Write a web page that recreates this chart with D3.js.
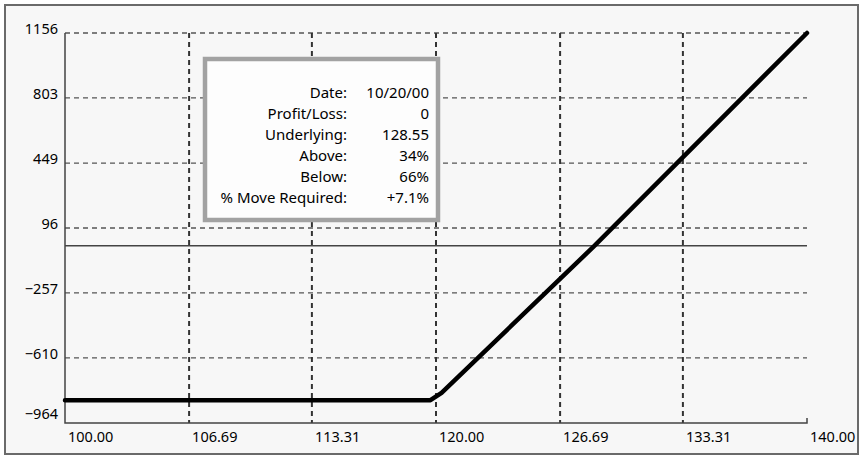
<!DOCTYPE html>
<html>
<head>
<meta charset="utf-8">
<script src="https://cdn.jsdelivr.net/npm/d3@7"></script>
<style>
  body { margin: 0; background: #fff; }
  text { font-family: "Noto Sans", "Open Sans", sans-serif; fill: #000; }
</style>
</head>
<body>
<svg id="chart" width="863" height="457"></svg>
<script>
// data
const xTicks = [100, 106.69, 113.31, 120, 126.69, 133.31, 140];
const yTicks = [-964, -610, -257, 96, 449, 803, 1156];
const prices = [100, 119.7, 120.3, 128.55, 140];
const profit = [-840, -840, -800, 0, 1156];
const infoLabels = ["Date:", "Profit/Loss:", "Underlying:", "Above:", "Below:", "% Move Required:"];
const infoValues = ["10/20/00", "0", "128.55", "34%", "66%", "+7.1%"];

const width = 863, height = 457;
const margin = { top: 33, right: 56, bottom: 34, left: 65 };

const svg = d3.select("#chart");

// frame
svg.append("rect")
  .attr("x", 5).attr("y", 5)
  .attr("width", width - 10).attr("height", height - 8)
  .attr("fill", "#f7f7f7")
  .attr("stroke", "#6a6a6a")
  .attr("stroke-width", 2);

const x = d3.scaleLinear()
  .domain([xTicks[0], xTicks[xTicks.length - 1]])
  .range([margin.left, width - margin.right]);

const y = d3.scaleLinear()
  .domain([yTicks[0], yTicks[yTicks.length - 1]])
  .range([height - margin.bottom, margin.top]);

const x0 = x.range()[0], x1 = x.range()[1];
const yBottom = y.range()[0], yTop = y.range()[1];

// horizontal dashed grid
svg.append("g")
  .selectAll("line")
  .data(yTicks.slice(1))
  .join("line")
  .attr("x1", x0).attr("x2", x1)
  .attr("y1", d => y(d)).attr("y2", d => y(d))
  .attr("stroke", "#555")
  .attr("stroke-width", 1.3)
  .attr("stroke-dasharray", "5,4");

// vertical dashed grid
svg.append("g")
  .selectAll("line")
  .data(xTicks.slice(1, -1))
  .join("line")
  .attr("x1", d => x(d)).attr("x2", d => x(d))
  .attr("y1", yTop).attr("y2", yBottom)
  .attr("stroke", "#333")
  .attr("stroke-width", 2)
  .attr("stroke-dasharray", "5,4");

// zero line
svg.append("line")
  .attr("x1", x0).attr("x2", x1)
  .attr("y1", y(0)).attr("y2", y(0))
  .attr("stroke", "#444")
  .attr("stroke-width", 1.5);

// axes
svg.append("path")
  .attr("d", `M${x0},${yTop}V${yBottom}H${x1}V${yBottom - 5}`)
  .attr("fill", "none")
  .attr("stroke", "#444")
  .attr("stroke-width", 1.5);

svg.append("g")
  .selectAll("text")
  .data(yTicks)
  .join("text")
  .attr("x", x0 - 7)
  .attr("y", d => Math.min(y(d) + 1, yBottom - 4))
  .attr("text-anchor", "end")
  .attr("font-size", 14.5)
  .text(d => d < 0 ? "\u2212" + Math.abs(d) : d);

svg.append("g")
  .selectAll("text")
  .data(xTicks)
  .join("text")
  .attr("x", d => x(d) + 3)
  .attr("y", yBottom + 19)
  .attr("font-size", 14.5)
  .text(d => d.toFixed(2));

// payoff line
const line = d3.line()
  .x((d, i) => x(prices[i]))
  .y(d => y(d));

svg.append("path")
  .datum(profit)
  .attr("d", line)
  .attr("fill", "none")
  .attr("stroke", "#000")
  .attr("stroke-width", 4.5)
  .attr("stroke-linejoin", "round")
  .attr("stroke-linecap", "round");

// info box
const box = svg.append("g").attr("transform", "translate(205,59)");
box.append("rect")
  .attr("width", 233).attr("height", 161)
  .attr("fill", "#fdfdfd")
  .attr("stroke", "#a2a2a2")
  .attr("stroke-width", 4.5);

box.selectAll("text.lab")
  .data(infoLabels)
  .join("text")
  .attr("class", "lab")
  .attr("x", 142)
  .attr("y", (d, i) => 39 + i * 21)
  .attr("text-anchor", "end")
  .attr("font-size", 15)
  .text(d => d);

box.selectAll("text.val")
  .data(infoValues)
  .join("text")
  .attr("class", "val")
  .attr("x", 224)
  .attr("y", (d, i) => 39 + i * 21)
  .attr("text-anchor", "end")
  .attr("font-size", 15)
  .text(d => d);
</script>
</body>
</html>
